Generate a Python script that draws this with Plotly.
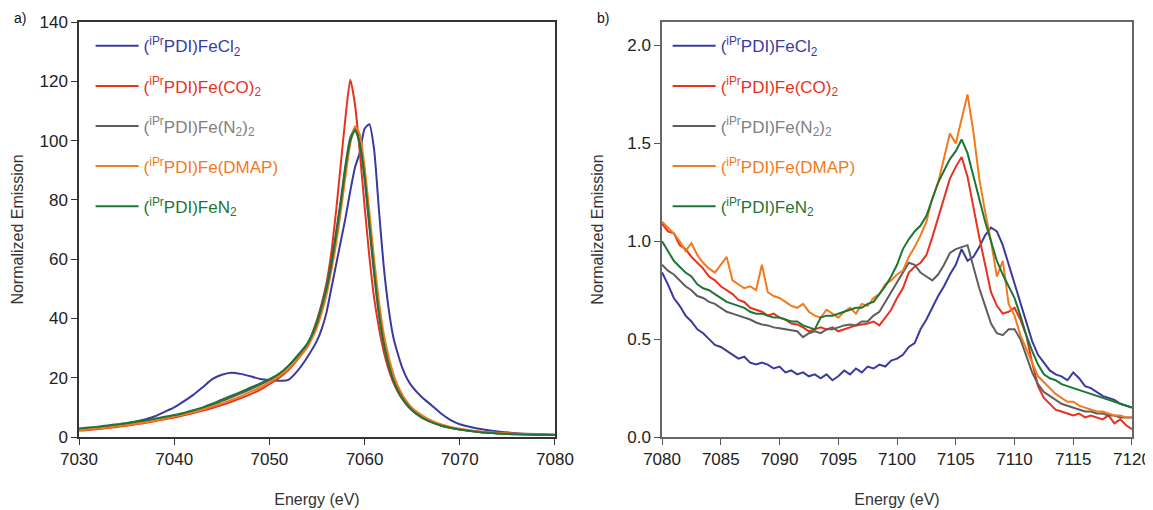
import plotly.graph_objects as go
from plotly.subplots import make_subplots

# ---- panel a: full K-beta region ----
energy_a = [7030, 7031, 7032, 7033, 7034, 7035, 7036, 7037, 7038, 7039,
            7040, 7041, 7042, 7043, 7044, 7045, 7046, 7047, 7048, 7049,
            7050, 7051, 7052, 7053, 7054, 7055,
            7055.5, 7056, 7056.5, 7057, 7057.5, 7058, 7058.5, 7059, 7059.5, 7060,
            7060.5, 7061, 7061.5, 7062, 7062.5, 7063, 7063.5, 7064, 7064.5, 7065,
            7066, 7067, 7068, 7069, 7070,
            7072, 7074, 7076, 7078, 7080]

fecl2_a = [2.5, 2.8, 3.2, 3.6, 4.0, 4.5, 5.2, 6.0, 7.0, 8.5,
           10.0, 12.0, 14.2, 16.8, 19.5, 21.0, 21.7, 21.3, 20.5, 19.6,
           19.2, 19.0, 19.3, 22.5, 27.0, 32.5,
           36.5, 42, 50, 58, 66, 74, 83, 91, 96, 104,
           105.5, 97, 77, 58, 44, 34, 28, 23, 19.5, 17,
           13.5, 10.8, 8.0, 5.8, 4.3,
           2.8, 1.9, 1.3, 1.0, 0.8]

feco2_a = [2.2, 2.4, 2.7, 3.0, 3.4, 3.8, 4.3, 4.8, 5.4, 6.0,
           6.6, 7.3, 8.1, 8.9, 9.8, 10.8, 11.9, 13.1, 14.4, 15.9,
           17.8, 19.9, 22.6, 26.3, 30.5, 39.5,
           45, 52, 62, 76, 92, 108, 120.5, 112, 96, 78,
           61, 47, 37, 29, 23, 18.5, 15.2, 12.6, 10.6, 9.0,
           6.8, 5.3, 4.1, 3.2, 2.6,
           1.8, 1.3, 1.0, 0.8, 0.7]

fen22_a = [2.6, 2.9, 3.2, 3.6, 4.0, 4.4, 4.9, 5.4, 6.0, 6.6,
           7.2, 8.0, 8.8, 9.8, 10.9, 12.1, 13.4, 14.7, 16.1, 17.6,
           19.2, 21.2, 24.0, 27.6, 31.5, 39.0,
           44.5, 51, 59, 69, 80, 92, 101, 104, 99, 87,
           71, 55, 41.5, 31.5, 24.5, 19.2, 15.5, 12.8, 10.6, 8.9,
           6.5, 5.0, 3.9, 3.1, 2.5,
           1.7, 1.2, 0.9, 0.8, 0.7]

fedmap_a = [2.3, 2.6, 2.9, 3.2, 3.6, 4.0, 4.5, 5.0, 5.6, 6.2,
            6.9, 7.6, 8.4, 9.3, 10.3, 11.3, 12.5, 13.8, 15.2, 16.7,
            18.5, 20.5, 23.0, 26.5, 30.5, 37.0,
            42, 48, 56, 65, 76, 88, 99, 104.8, 102, 91,
            76, 60, 46, 35, 27.5, 21.5, 17.2, 14.1, 11.7, 9.8,
            7.4, 5.6, 4.3, 3.4, 2.8,
            1.9, 1.4, 1.1, 0.9, 0.8]

fen2_a = [2.9, 3.2, 3.5, 3.9, 4.3, 4.7, 5.2, 5.7, 6.2, 6.8,
          7.4, 8.1, 9.0, 10.0, 11.2, 12.6, 13.9, 15.2, 16.6, 18.0,
          19.5, 21.3, 24.0, 27.5, 31.5, 38.5,
          44, 50, 58, 68, 79, 91, 100, 103.5, 99, 88,
          72, 56, 42, 32, 25, 19.5, 15.8, 13.0, 10.8, 9.0,
          6.6, 5.0, 3.9, 3.1, 2.5,
          1.7, 1.2, 0.9, 0.8, 0.7]

# ---- panel b: valence-to-core region ----
energy_b = [7080 + 0.5 * i for i in range(81)]

fecl2_b = [0.84, 0.78, 0.71, 0.67, 0.62, 0.59, 0.55, 0.53, 0.50, 0.47,
           0.46, 0.44, 0.42, 0.40, 0.41, 0.38, 0.37, 0.38, 0.37, 0.35,
           0.36, 0.33, 0.34, 0.32, 0.33, 0.31, 0.32, 0.30, 0.32, 0.29,
           0.31, 0.34, 0.32, 0.35, 0.33, 0.36, 0.35, 0.37, 0.36, 0.39,
           0.40, 0.42, 0.46, 0.48, 0.55, 0.60, 0.66, 0.72, 0.77, 0.83,
           0.88, 0.96, 0.90, 0.92, 0.97, 1.03, 1.07, 1.05, 0.98, 0.88,
           0.79, 0.69, 0.58, 0.49, 0.42, 0.38, 0.34, 0.32, 0.31, 0.29,
           0.33, 0.30, 0.26, 0.25, 0.23, 0.21, 0.20, 0.19, 0.17, 0.16,
           0.15]

feco2_b = [1.09, 1.05, 1.04, 0.98, 0.96, 0.92, 0.89, 0.86, 0.82, 0.80,
           0.77, 0.75, 0.73, 0.70, 0.69, 0.66, 0.65, 0.64, 0.62, 0.63,
           0.61, 0.60, 0.58, 0.575, 0.56, 0.54, 0.55, 0.56, 0.55, 0.56,
           0.54, 0.55, 0.56, 0.57, 0.575, 0.58, 0.59, 0.57, 0.61, 0.65,
           0.71, 0.76, 0.84, 0.87, 0.89, 0.93, 1.02, 1.12, 1.22, 1.32,
           1.38, 1.43, 1.33, 1.17, 1.02, 0.88, 0.74, 0.67, 0.63, 0.64,
           0.66, 0.60, 0.52, 0.38, 0.26, 0.20, 0.17, 0.14, 0.13, 0.12,
           0.11, 0.12, 0.10, 0.11, 0.10, 0.09, 0.11, 0.07, 0.09, 0.06,
           0.04]

fen22_b = [0.88, 0.85, 0.83, 0.80, 0.77, 0.75, 0.72, 0.71, 0.69, 0.68,
           0.66, 0.64, 0.63, 0.62, 0.61, 0.60, 0.585, 0.575, 0.57, 0.56,
           0.556, 0.55, 0.545, 0.54, 0.51, 0.53, 0.54, 0.53, 0.55, 0.55,
           0.56, 0.57, 0.575, 0.57, 0.59, 0.59, 0.62, 0.64, 0.69, 0.74,
           0.79, 0.84, 0.89, 0.88, 0.84, 0.82, 0.80, 0.83, 0.88, 0.94,
           0.96, 0.97, 0.98, 0.87, 0.76, 0.67, 0.58, 0.53, 0.52, 0.55,
           0.55, 0.50, 0.41, 0.33, 0.27, 0.23, 0.21, 0.19, 0.17, 0.16,
           0.15, 0.14, 0.13, 0.13, 0.12, 0.12, 0.11, 0.11, 0.10, 0.10,
           0.10]

fedmap_b = [1.10, 1.07, 1.04, 1.00, 0.95, 0.99, 0.93, 0.89, 0.86, 0.84,
            0.88, 0.92, 0.80, 0.78, 0.76, 0.77, 0.75, 0.88, 0.74, 0.72,
            0.71, 0.69, 0.67, 0.66, 0.68, 0.64, 0.62, 0.61, 0.65, 0.63,
            0.61, 0.64, 0.66, 0.63, 0.68, 0.67, 0.71, 0.73, 0.78, 0.80,
            0.83, 0.85, 0.92, 0.97, 1.03, 1.10, 1.22, 1.30, 1.43, 1.55,
            1.50, 1.62, 1.75, 1.56, 1.32, 1.15, 1.00, 0.82, 0.90, 0.68,
            0.62, 0.52, 0.45, 0.38, 0.31, 0.28, 0.25, 0.22, 0.20, 0.18,
            0.18, 0.16, 0.15, 0.14, 0.13, 0.13, 0.12, 0.11, 0.11, 0.10,
            0.10]

fen2_b = [1.00, 0.95, 0.90, 0.87, 0.84, 0.82, 0.78, 0.76, 0.75, 0.73,
          0.71, 0.69, 0.68, 0.67, 0.66, 0.64, 0.63, 0.63, 0.62, 0.61,
          0.61, 0.60, 0.59, 0.59, 0.57, 0.56, 0.55, 0.61, 0.62, 0.62,
          0.63, 0.64, 0.65, 0.66, 0.66, 0.68, 0.69, 0.73, 0.77, 0.82,
          0.88, 0.96, 1.01, 1.05, 1.08, 1.13, 1.22, 1.30, 1.36, 1.42,
          1.46, 1.52, 1.45, 1.33, 1.22, 1.10, 1.00, 0.90, 0.83, 0.77,
          0.71, 0.62, 0.52, 0.44, 0.37, 0.32, 0.30, 0.29, 0.27, 0.26,
          0.25, 0.24, 0.23, 0.22, 0.21, 0.20, 0.19, 0.18, 0.17, 0.16,
          0.15]

names = ['(<sup>iPr</sup>PDI)FeCl<sub>2</sub>',
         '(<sup>iPr</sup>PDI)Fe(CO)<sub>2</sub>',
         '(<sup>iPr</sup>PDI)Fe(N<sub>2</sub>)<sub>2</sub>',
         '(<sup>iPr</sup>PDI)Fe(DMAP)',
         '(<sup>iPr</sup>PDI)FeN<sub>2</sub>']
colors = ['#3a3a9e', '#e8311f', '#5e5e5e', '#f27a1d', '#1d7636']
text_colors = ['#3a3a9e', '#e8311f', '#808080', '#f27a1d', '#1d7636']

series_a = [fecl2_a, feco2_a, fen22_a, fedmap_a, fen2_a]
series_b = [fecl2_b, feco2_b, fen22_b, fedmap_b, fen2_b]

fig = make_subplots(rows=1, cols=2, horizontal_spacing=0.1)

for i in range(5):
    label = '<span style="color:%s">%s</span>' % (text_colors[i], names[i])
    fig.add_trace(go.Scatter(x=energy_a, y=series_a[i], mode='lines', name=label,
                             line=dict(color=colors[i], width=2, shape='spline', smoothing=0.6),
                             legend='legend', legendgroup='a%d' % i), row=1, col=1)
    fig.add_trace(go.Scatter(x=energy_b, y=series_b[i], mode='lines', name=label,
                             line=dict(color=colors[i], width=2),
                             legend='legend2', legendgroup='b%d' % i), row=1, col=2)

axis_font = dict(family='Liberation Sans, Arial, sans-serif', size=17, color='#222')
title_font = dict(family='Liberation Sans, Arial, sans-serif', size=16, color='#333')
leg_font = dict(family='Liberation Sans, Arial, sans-serif', size=17)

common = dict(showgrid=False, zeroline=False, ticks='outside', ticklen=6,
              tickfont=axis_font, mirror=True, showline=True)

fig.update_xaxes(domain=[0, 0.452], range=[7030, 7080], tickvals=[7030, 7040, 7050, 7060, 7070, 7080],
                 linecolor='#333', tickcolor='#333', linewidth=1.5,
                 title=dict(text='Energy (eV)', font=title_font, standoff=26), row=1, col=1, **common)
fig.update_yaxes(range=[0, 140], tickvals=[0, 20, 40, 60, 80, 100, 120, 140],
                 linecolor='#333', tickcolor='#333', linewidth=1.5,
                 title=dict(text='Normalized Emission', font=title_font, standoff=12), row=1, col=1, **common)
fig.update_xaxes(domain=[0.5537, 1], range=[7080, 7120], tickvals=list(range(7080, 7121, 5)),
                 linecolor='#666', tickcolor='#555', linewidth=1.5,
                 title=dict(text='Energy (eV)', font=title_font, standoff=26), row=1, col=2, **common)
fig.update_yaxes(range=[0, 2.12], tickvals=[0, 0.5, 1.0, 1.5, 2.0], tickformat='.1f',
                 linecolor='#666', tickcolor='#555', linewidth=1.5,
                 title=dict(text='Normalized Emission', font=title_font, standoff=20), row=1, col=2, **common)

legend_common = dict(bgcolor='rgba(0,0,0,0)', font=leg_font, tracegroupgap=15, itemwidth=43,
                     traceorder='grouped', xanchor='left', yanchor='top')

# page body has an 8px margin, so the figure is a little smaller than the window
fig.update_layout(
    width=1145, height=502,
    template='none',
    paper_bgcolor='white', plot_bgcolor='white',
    margin=dict(l=71, r=21, t=14, b=73),
    showlegend=True,
    legend=dict(x=0.011, y=0.985, **legend_common),
    legend2=dict(x=0.559, y=0.985, **legend_common),
    annotations=[
        dict(text='a)', xref='paper', yref='paper', x=-0.064, y=1.01, showarrow=False,
             xanchor='left', yanchor='middle', font=dict(family='Liberation Sans, Arial', size=14, color='#111')),
        dict(text='b)', xref='paper', yref='paper', x=0.49, y=1.01, showarrow=False,
             xanchor='left', yanchor='middle', font=dict(family='Liberation Sans, Arial', size=14, color='#111')),
    ],
)

fig.write_html("out.html")
